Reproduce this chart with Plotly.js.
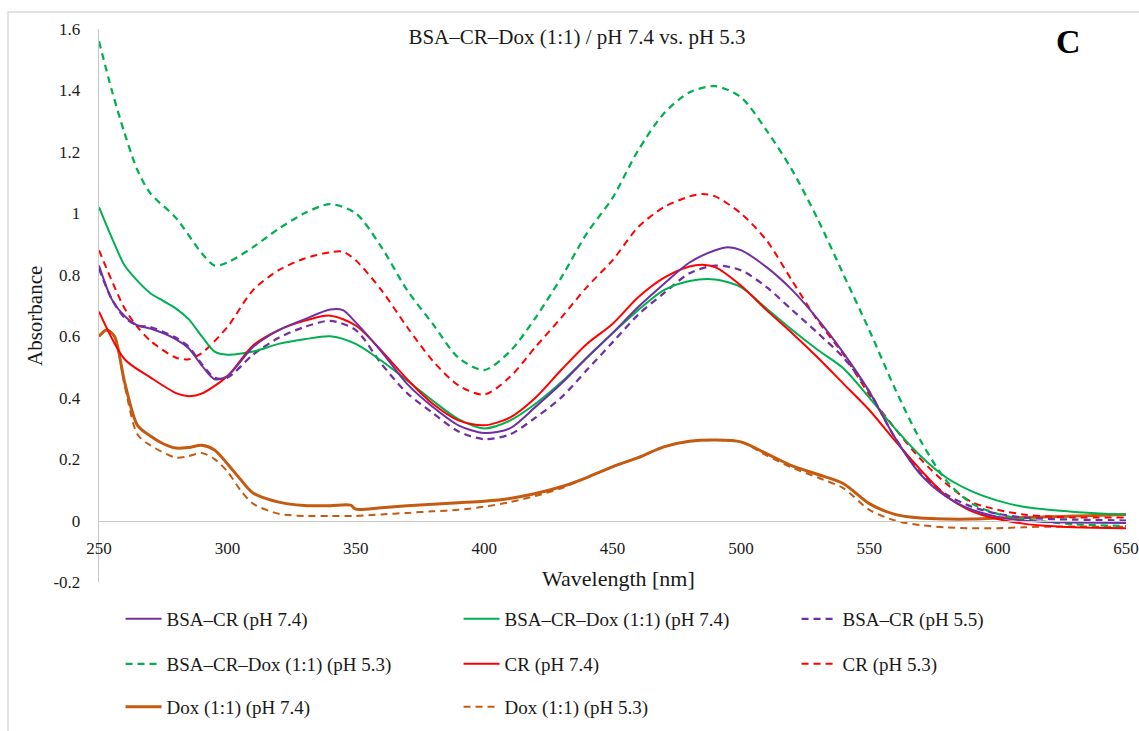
<!DOCTYPE html>
<html>
<head>
<meta charset="utf-8">
<script src="https://cdn.plot.ly/plotly-3.0.1.min.js"></script>
<style>
html,body{margin:0;padding:0;background:#fff;}
#chart{width:1139px;height:731px;}
</style>
</head>
<body>
<div id="chart"></div>
<script>
// ---- Data ----
var chartTitle = "BSA–CR–Dox (1:1) / pH 7.4 vs. pH 5.3";
var panelLabel = "C";
var xTitle = "Wavelength [nm]";
var yTitle = "Absorbance";
var yTickVals = [-0.2, 0, 0.2, 0.4, 0.6, 0.8, 1, 1.2, 1.4, 1.6];
var yTickText = ["-0.2", "0", "0.2", "0.4", "0.6", "0.8", "1", "1.2", "1.4", "1.6"];
var xTickVals = [250, 300, 350, 400, 450, 500, 550, 600, 650];

// BSA–CR (pH 7.4)
var bsaCr74_x = [250,255,260,265,270,280,285,290,295,300,310,320,330,340,345,350,360,370,380,390,400,410,420,430,440,450,460,470,480,490,495,500,510,520,530,540,550,560,570,580,590,600,610,620,650];
var bsaCr74_y = [0.83,0.72,0.665,0.635,0.625,0.59,0.56,0.505,0.46,0.47,0.565,0.62,0.655,0.687,0.685,0.645,0.55,0.445,0.37,0.31,0.285,0.30,0.37,0.445,0.53,0.61,0.695,0.77,0.84,0.88,0.89,0.88,0.825,0.75,0.655,0.545,0.42,0.27,0.15,0.078,0.035,0.012,0.0,-0.005,-0.008];

// BSA–CR–Dox (1:1) (pH 7.4)
var bsaCrDox74_x = [250,255,260,265,270,275,280,285,290,295,300,310,320,330,340,350,360,370,380,390,400,410,420,430,440,450,460,470,480,490,500,510,520,530,540,550,560,570,580,590,600,610,620,630,640,650];
var bsaCrDox74_y = [1.02,0.92,0.83,0.78,0.74,0.715,0.69,0.655,0.60,0.55,0.54,0.55,0.575,0.59,0.60,0.575,0.52,0.456,0.39,0.33,0.30,0.325,0.38,0.45,0.53,0.61,0.685,0.75,0.78,0.785,0.76,0.69,0.62,0.555,0.495,0.40,0.30,0.21,0.14,0.095,0.065,0.045,0.035,0.028,0.023,0.02];

// BSA–CR (pH 5.5)
var bsaCr55_x = [250,255,260,265,270,280,285,290,295,300,310,320,330,340,350,360,370,380,390,400,410,420,430,440,450,460,470,480,490,500,510,520,530,540,550,560,570,580,590,600,610,620,630,650];
var bsaCr55_y = [0.82,0.72,0.66,0.635,0.63,0.595,0.565,0.51,0.465,0.465,0.54,0.595,0.63,0.65,0.62,0.51,0.415,0.35,0.29,0.265,0.28,0.335,0.40,0.49,0.58,0.67,0.74,0.805,0.83,0.815,0.76,0.685,0.61,0.53,0.42,0.27,0.155,0.085,0.045,0.022,0.01,0.005,0.003,0.0];

// BSA–CR–Dox (1:1) (pH 5.3)
var bsaCrDox53_x = [250,255,260,265,270,280,290,295,300,310,320,330,340,350,360,370,380,390,400,410,420,430,440,450,460,470,480,490,500,510,520,530,540,550,560,570,580,590,600,610,620,630,650];
var bsaCrDox53_y = [1.56,1.40,1.26,1.14,1.065,0.985,0.87,0.83,0.84,0.89,0.95,1.00,1.03,1.00,0.89,0.75,0.64,0.53,0.49,0.55,0.66,0.79,0.935,1.05,1.205,1.325,1.394,1.414,1.378,1.27,1.14,0.98,0.80,0.62,0.43,0.26,0.13,0.055,0.022,0.005,-0.005,-0.012,-0.018];

// CR (pH 7.4)
var cr74_x = [250,260,270,280,285,290,300,310,320,330,340,350,360,370,380,390,400,410,420,430,440,450,460,470,480,485,490,500,510,520,530,540,550,560,570,580,590,600,610,620,630,650];
var cr74_y = [0.68,0.525,0.466,0.415,0.405,0.413,0.47,0.57,0.62,0.65,0.667,0.635,0.553,0.46,0.38,0.326,0.31,0.335,0.40,0.49,0.575,0.64,0.727,0.79,0.827,0.833,0.825,0.765,0.685,0.61,0.53,0.445,0.36,0.26,0.165,0.08,0.03,0.005,-0.01,-0.018,-0.022,-0.025];

// CR (pH 5.3)
var cr53_x = [250,260,265,270,280,285,290,300,310,320,330,340,345,350,360,370,380,390,400,410,420,430,440,450,460,470,480,485,490,500,510,520,530,540,550,560,570,580,590,600,610,620,630,650];
var cr53_y = [0.88,0.69,0.63,0.585,0.53,0.525,0.545,0.63,0.75,0.815,0.853,0.873,0.875,0.847,0.75,0.63,0.52,0.44,0.41,0.467,0.565,0.66,0.76,0.847,0.955,1.02,1.055,1.063,1.055,1.0,0.912,0.78,0.65,0.54,0.41,0.30,0.20,0.12,0.06,0.035,0.02,0.013,0.01,0.01];

// Dox (1:1) (pH 7.4)
var dox74_x = [250,253,256,260,265,270,275,280,285,290,295,300,305,310,320,330,340,348,350,360,370,380,390,400,410,420,430,440,450,460,470,480,490,500,510,520,530,540,550,560,570,580,590,600,610,620,630,640,650];
var dox74_y = [0.60,0.62,0.60,0.45,0.31,0.275,0.25,0.236,0.238,0.245,0.23,0.185,0.135,0.09,0.06,0.049,0.048,0.05,0.037,0.042,0.048,0.053,0.058,0.063,0.072,0.088,0.11,0.14,0.175,0.205,0.24,0.258,0.262,0.256,0.218,0.178,0.15,0.12,0.055,0.02,0.008,0.005,0.005,0.008,0.01,0.012,0.015,0.017,0.02];

// Dox (1:1) (pH 5.3)
var dox53_x = [250,253,256,260,265,270,280,285,290,295,300,305,310,320,330,340,350,360,370,380,390,400,410,420,430,440,450,460,470,480,490,500,510,520,530,540,550,560,570,580,590,600,610,620,650];
var dox53_y = [0.60,0.62,0.60,0.44,0.28,0.245,0.205,0.21,0.22,0.20,0.16,0.10,0.055,0.022,0.015,0.015,0.015,0.02,0.025,0.03,0.035,0.045,0.06,0.08,0.105,0.14,0.175,0.205,0.24,0.258,0.262,0.256,0.212,0.172,0.14,0.105,0.035,0.0,-0.015,-0.022,-0.025,-0.025,-0.022,-0.02,-0.02];

// ---- Styles ----
var PURPLE = "#7030A0", GREEN = "#00B050", RED = "#FF0000", BROWN = "#C55A11";
var DASH = "7px,5px";
var FONT = "Liberation Serif";
var TXT = "#1a1a1a";

function tr(x, y, name, color, width, dash, legend, rank) {
  return {
    x: x, y: y, name: name, type: "scatter", mode: "lines",
    line: {color: color, width: width, dash: dash, shape: "spline", smoothing: 0.8},
    legend: legend, legendrank: rank, hoverinfo: "x+y+name"
  };
}

var traces = [
  tr(dox74_x, dox74_y, "Dox (1:1) (pH 7.4)", BROWN, 3, "solid", "legend3", 7),
  tr(dox53_x, dox53_y, "Dox (1:1) (pH 5.3)", BROWN, 2, DASH, "legend3", 8),
  tr(cr53_x, cr53_y, "CR (pH 5.3)", RED, 2, DASH, "legend2", 6),
  tr(bsaCrDox53_x, bsaCrDox53_y, "BSA–CR–Dox (1:1) (pH 5.3)", GREEN, 2.25, DASH, "legend2", 4),
  tr(bsaCr55_x, bsaCr55_y, "BSA–CR (pH 5.5)", PURPLE, 2.25, DASH, "legend", 3),
  tr(bsaCrDox74_x, bsaCrDox74_y, "BSA–CR–Dox (1:1) (pH 7.4)", GREEN, 2, "solid", "legend", 2),
  tr(cr74_x, cr74_y, "CR (pH 7.4)", RED, 2, "solid", "legend2", 5),
  tr(bsaCr74_x, bsaCr74_y, "BSA–CR (pH 7.4)", PURPLE, 2, "solid", "legend", 1)
];

function leg(y) {
  return {
    orientation: "h", x: 0.021, xanchor: "left", y: y, yanchor: "middle",
    entrywidth: 287, traceorder: "normal", itemwidth: 36,
    font: {family: FONT, size: 19, color: TXT},
    bgcolor: "rgba(0,0,0,0)", borderwidth: 0
  };
}

var yZeroPos = 0.2 / 1.8;

var layout = {
  width: 1139, height: 731,
  margin: {l: 99, r: 13, t: 29, b: 149, autoexpand: false},
  paper_bgcolor: "#ffffff", plot_bgcolor: "#ffffff",
  font: {family: FONT, color: TXT},
  title: {
    text: chartTitle, font: {family: FONT, size: 21, color: TXT},
    x: 577 / 1139, xref: "container", xanchor: "center",
    y: 1 - 37 / 731, yref: "container", yanchor: "middle"
  },
  showlegend: true,
  xaxis: {
    range: [250, 650], anchor: "free", position: yZeroPos,
    showline: true, linecolor: "#c8c8c8", linewidth: 1.3,
    showgrid: false, zeroline: false, ticks: "",
    tickvals: xTickVals, ticktext: xTickVals.map(String),
    tickfont: {family: FONT, size: 17, color: TXT},
    ticklabelstandoff: 12, fixedrange: true
  },
  yaxis: {
    range: [-0.2, 1.6],
    showline: true, linecolor: "#c8c8c8", linewidth: 1.3,
    showgrid: false, zeroline: false, ticks: "",
    tickvals: yTickVals, ticktext: yTickText,
    tickfont: {family: FONT, size: 17, color: TXT},
    ticklabelstandoff: 14, fixedrange: true
  },
  legend: leg((582 - 619) / 553),
  legend2: leg((582 - 664) / 553),
  legend3: leg((582 - 707) / 553),
  annotations: [
    {text: xTitle, xref: "paper", yref: "paper", x: (618 - 99) / 1027, y: (582 - 578) / 553,
     xanchor: "center", yanchor: "middle", showarrow: false, font: {family: FONT, size: 22, color: TXT}},
    {text: yTitle, xref: "paper", yref: "paper", x: (35 - 99) / 1027, y: (582 - 316) / 553,
     xanchor: "center", yanchor: "middle", textangle: -90, showarrow: false, font: {family: FONT, size: 21, color: TXT}},
    {text: "<b>" + panelLabel + "</b>", xref: "paper", yref: "paper", x: (1068 - 99) / 1027, y: (582 - 42) / 553,
     xanchor: "center", yanchor: "middle", showarrow: false, font: {family: FONT, size: 34, color: "#000"}}
  ],
  shapes: [
    {type: "rect", xref: "paper", yref: "paper",
     x0: (8 - 99) / 1027, x1: (1150 - 99) / 1027, y0: (582 - 760) / 553, y1: (582 - 12) / 553,
     line: {color: "#d9d9d9", width: 1.5}, fillcolor: "rgba(0,0,0,0)", layer: "below"}
  ]
};

Plotly.newPlot("chart", traces, layout, {displayModeBar: false, staticPlot: true});
</script>
</body>
</html>
